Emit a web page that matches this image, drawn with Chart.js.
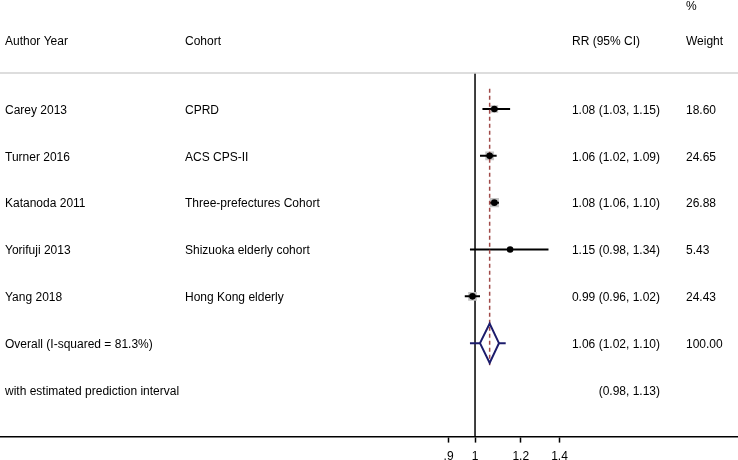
<!DOCTYPE html>
<html>
<head>
<meta charset="utf-8">
<script src="https://cdn.jsdelivr.net/npm/chart.js@4/dist/chart.umd.min.js"></script>
<style>
  html, body { margin: 0; padding: 0; background: #fff; overflow: hidden; }
  #wrap { position: relative; width: 738px; height: 471px; }
</style>
</head>
<body>
<div id="wrap"><canvas id="forest"></canvas></div>
<script>
// Study rows
const authors = ["Carey 2013", "Turner 2016", "Katanoda 2011", "Yorifuji 2013", "Yang 2018"];
const cohorts = ["CPRD", "ACS CPS-II", "Three-prefectures Cohort", "Shizuoka elderly cohort", "Hong Kong elderly"];
const rr = [1.08, 1.06, 1.08, 1.15, 0.99];
const lower = [1.03, 1.02, 1.06, 0.98, 0.96];
const upper = [1.15, 1.09, 1.10, 1.34, 1.02];
const weights = [18.60, 24.65, 26.88, 5.43, 24.43];

// Pooled estimate
const overallLabel = "Overall (I-squared = 81.3%)";
const overall = [1.06, 1.02, 1.10]; // estimate, lower, upper
const overallWeight = 100.00;
const predInterval = [0.98, 1.13];
const predLabel = "with estimated prediction interval";

// Axis ticks
const tickValues = [0.9, 1, 1.2, 1.4];
const tickLabels = [".9", "1", "1.2", "1.4"];

// row layout (row index units, 0 = first study)
const overallRow = authors.length;
const predRow = authors.length + 1;
const headerRow = -1.48;
const percentRow = -2.22;
const sepRow = -0.77;
const yMin = -2.3275, yMax = 6.995;
const xMin = 0.1507, xMax = 2.851;

const FONT = '"Liberation Sans", Arial, Helvetica, sans-serif';
const fmt = (v) => v.toFixed(2);

const rows = authors.map((a, i) => i);

// datasets
const ciSets = rows.map((i) => ({
  type: "line",
  data: [{ x: lower[i], y: i }, { x: upper[i], y: i }],
  borderColor: "#000",
  borderWidth: 2,
  pointRadius: 0,
  order: 6,
}));

const datasets = [
  {
    // null line
    type: "line",
    data: [{ x: 1, y: sepRow }, { x: 1, y: yMax }],
    borderColor: "#000",
    borderWidth: 1.5,
    pointRadius: 0,
    order: 12,
  },
  {
    // pooled estimate dashed line
    type: "line",
    data: [{ x: overall[0], y: -0.43 }, { x: overall[0], y: overallRow + 0.47 }],
    borderColor: "#a04a48",
    borderWidth: 1.5,
    borderDash: [4, 3],
    pointRadius: 0,
    order: 5,
  },
  {
    // weight boxes
    type: "scatter",
    data: rows.map((i) => ({ x: rr[i], y: i })),
    backgroundColor: "#c4c4c4",
    borderWidth: 0,
    pointStyle: "rect",
    pointRadius: weights.map((w) => 1.25 * Math.sqrt(w)),
    order: 8,
  },
  ...ciSets,
  {
    // point estimates
    type: "scatter",
    data: rows.map((i) => ({ x: rr[i], y: i })),
    backgroundColor: "#000",
    borderWidth: 0,
    pointStyle: "circle",
    pointRadius: 3.3,
    order: 3,
  },
  {
    // prediction interval whiskers
    type: "line",
    data: [{ x: predInterval[0], y: overallRow }, { x: overall[1], y: overallRow }],
    borderColor: "#1c1c6c",
    borderWidth: 2,
    pointRadius: 0,
    order: 4,
  },
  {
    type: "line",
    data: [{ x: overall[2], y: overallRow }, { x: predInterval[1], y: overallRow }],
    borderColor: "#1c1c6c",
    borderWidth: 2,
    pointRadius: 0,
    order: 4,
  },
  {
    // pooled diamond
    type: "line",
    data: [
      { x: overall[1], y: overallRow },
      { x: overall[0], y: overallRow - 0.42 },
      { x: overall[2], y: overallRow },
      { x: overall[0], y: overallRow + 0.42 },
      { x: overall[1], y: overallRow },
    ],
    borderColor: "#1c1c6c",
    borderWidth: 2,
    pointRadius: 0,
    tension: 0,
    order: 2,
  },
];

// text columns drawn next to the plot
const forestText = {
  id: "forestText",
  afterDatasetsDraw(chart) {
    const ctx = chart.ctx;
    const y = chart.scales.y;
    const area = chart.chartArea;
    const py = (r) => y.getPixelForValue(r);

    ctx.save();
    ctx.strokeStyle = "#d2d2d2";
    ctx.lineWidth = 1.5;
    ctx.beginPath();
    ctx.moveTo(area.left, Math.round(py(sepRow)));
    ctx.lineTo(area.right, Math.round(py(sepRow)));
    ctx.stroke();

    ctx.font = "12px " + FONT;
    ctx.fillStyle = "#000";
    ctx.textBaseline = "middle";

    // small shift so the cap height sits centred on the row
    const left = (t, x, r) => { ctx.textAlign = "left"; ctx.fillText(t, x, py(r) + 1.5); };
    const right = (t, x, r) => { ctx.textAlign = "right"; ctx.fillText(t, x, py(r) + 1.5); };

    left("Author Year", 5, headerRow);
    left("Cohort", 185, headerRow);
    right("RR (95% CI)", 640, headerRow);
    left("Weight", 686, headerRow);
    left("%", 686, percentRow);

    rows.forEach((i) => {
      left(authors[i], 5, i);
      left(cohorts[i], 185, i);
      right(fmt(rr[i]) + " (" + fmt(lower[i]) + ", " + fmt(upper[i]) + ")", 660, i);
      left(fmt(weights[i]), 686, i);
    });

    left(overallLabel, 5, overallRow);
    right(fmt(overall[0]) + " (" + fmt(overall[1]) + ", " + fmt(overall[2]) + ")", 660, overallRow);
    left(overallWeight.toFixed(2), 686, overallRow);

    left(predLabel, 5, predRow);
    right("(" + fmt(predInterval[0]) + ", " + fmt(predInterval[1]) + ")", 660, predRow);
    ctx.restore();
  },
};

new Chart(document.getElementById("forest"), {
  type: "scatter",
  data: { datasets },
  plugins: [forestText],
  options: {
    responsive: true,
    maintainAspectRatio: false,
    animation: false,
    layout: { padding: 0, autoPadding: false },
    plugins: { legend: { display: false }, tooltip: { enabled: false } },
    scales: {
      x: {
        type: "logarithmic",
        min: xMin,
        max: xMax,
        bounds: "data",
        afterBuildTicks: (s) => {
          s.ticks = tickValues.map((v) => ({ value: v }));
        },
        ticks: {
          autoSkip: false,
          maxRotation: 0,
          color: "#000",
          padding: 7,
          font: { size: 12, family: FONT },
          callback: (v, idx) => tickLabels[idx],
        },
        grid: { drawOnChartArea: false, drawTicks: true, tickLength: 6, tickColor: "#000", tickWidth: 1.5 },
        border: { display: true, color: "#000", width: 1.5 },
      },
      y: {
        type: "linear",
        reverse: true,
        min: yMin,
        max: yMax,
        bounds: "data",
        display: false,
      },
    },
  },
});
</script>
</body>
</html>
